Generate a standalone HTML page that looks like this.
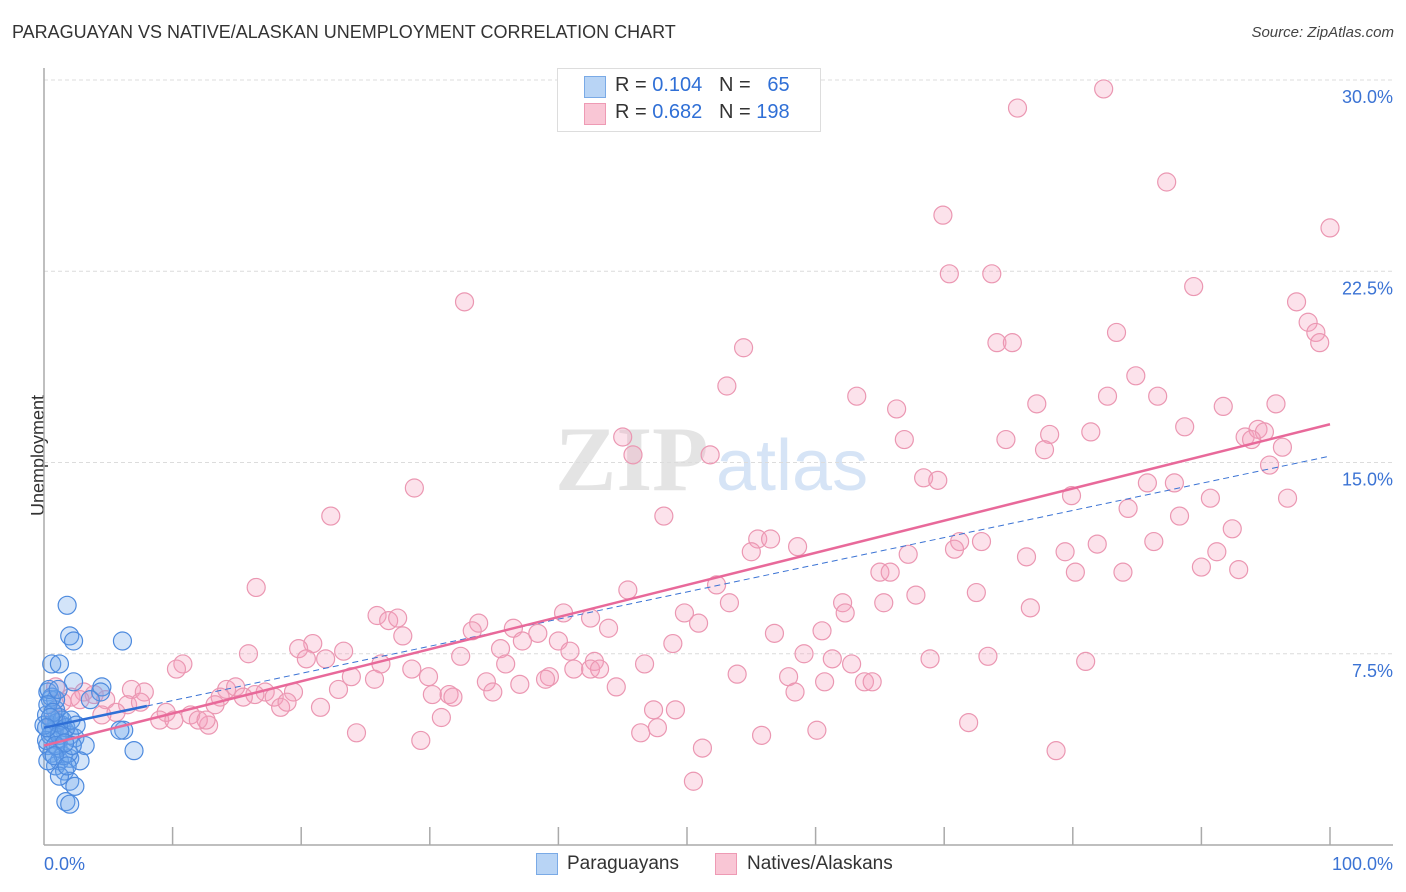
<!DOCTYPE html>
<html><head><meta charset="utf-8">
<style>
body{margin:0;background:#fff;font-family:"Liberation Sans",sans-serif;}
#wrap{position:relative;width:1406px;height:892px;overflow:hidden;}
.t{position:absolute;white-space:nowrap;}
</style></head>
<body>
<div id="wrap">
<div class="t" style="left:12px;top:22px;font-size:18px;color:#333;">PARAGUAYAN VS NATIVE/ALASKAN UNEMPLOYMENT CORRELATION CHART</div>
<div class="t" style="right:12px;top:24px;font-size:15px;color:#444;font-style:italic;">Source: ZipAtlas.com</div>
<div class="t" style="left:-22px;top:445px;font-size:18px;color:#333;transform:rotate(-90deg);">Unemployment</div>
<svg id="svg" width="1406" height="892" style="position:absolute;left:0;top:0"></svg>
<div style="position:absolute;left:557px;top:68px;width:262px;height:62px;border:1px solid #ddd;background:#fff;font-size:20px;color:#333;">
 <div style="position:absolute;left:26px;top:7px;width:20px;height:20px;background:#b8d4f5;border:1px solid #7aaae6;"></div>
 <div class="t" style="left:57px;top:5px;">R = <span style="color:#2f6fd6">0.104</span>&nbsp;&nbsp;&nbsp;N = &nbsp;&nbsp;<span style="color:#2f6fd6">65</span></div>
 <div style="position:absolute;left:26px;top:34px;width:20px;height:20px;background:#f9c6d5;border:1px solid #ee9ab4;"></div>
 <div class="t" style="left:57px;top:32px;">R = <span style="color:#2f6fd6">0.682</span>&nbsp;&nbsp;&nbsp;N = <span style="color:#2f6fd6">198</span></div>
</div>
<div style="position:absolute;left:536px;top:853px;width:20px;height:20px;background:#b8d4f5;border:1px solid #7aaae6;"></div>
<div class="t" style="left:567px;top:853px;font-size:19px;color:#333;">Paraguayans</div>
<div style="position:absolute;left:715px;top:853px;width:20px;height:20px;background:#f9c6d5;border:1px solid #ee9ab4;"></div>
<div class="t" style="left:747px;top:853px;font-size:19px;color:#333;">Natives/Alaskans</div>
</div>
<script>
const yTicks=[7.5,15,22.5,30];
const yTickLabels=["7.5%","15.0%","22.5%","30.0%"];
const xEndLabels=["0.0%","100.0%"];
const pinkX=[82.4,75.7,87.3,69.9,100,70.4,73.7,89.4,32.7,97.4,98.3,98.9,83.4,99.2,74.1,75.3,54.4,84.9,53.1,63.2,82.7,86.6,66.3,77.2,91.7,95.8,88.7,66.9,74.8,78.2,81.4,93.4,94.4,94.9,93.9,77.8,45.0,45.8,51.8,96.3,95.3,68.4,69.5,85.8,87.9,79.9,90.7,28.8,84.3,96.7,88.3,22.3,48.2,92.4,55.5,56.5,55.0,58.6,71.2,72.9,70.8,81.9,86.3,79.4,67.2,91.2,76.4,90.0,92.9,65.0,65.8,80.2,83.9,52.3,45.4,16.5,67.8,72.5,53.3,62.1,65.3,76.7,25.9,40.4,26.8,27.5,49.8,62.3,33.8,50.9,42.5,43.9,36.5,27.9,56.8,60.5,33.3,38.4,48.9,40.0,20.9,19.8,23.3,37.2,15.9,20.4,21.9,26.2,28.6,32.4,35.5,40.9,35.9,42.8,46.7,59.1,61.3,62.8,68.9,73.4,81.0,10.8,10.3,29.9,34.4,39.3,42.5,43.2,41.2,23.9,25.7,53.9,57.9,60.7,63.8,64.4,30.2,31.5,31.8,37.0,39.0,44.5,34.9,22.9,19.4,17.2,16.4,17.9,14.2,13.7,14.9,15.5,6.8,7.8,3.1,3.9,4.8,6.5,7.5,5.6,4.5,9.5,9.0,10.1,13.3,11.4,12.8,12.0,12.6,18.4,18.9,21.5,30.9,47.4,49.1,58.4,46.4,47.7,24.3,29.3,51.2,55.8,60.1,71.9,78.7,50.5,0.8,1.4,2.1,2.8,0.9];
const pinkY=[29.65,28.9,26.0,24.7,24.2,22.4,22.4,21.9,21.3,21.3,20.5,20.1,20.1,19.7,19.7,19.7,19.5,18.4,18.0,17.6,17.6,17.6,17.1,17.3,17.2,17.3,16.4,15.9,15.9,16.1,16.2,16.0,16.3,16.2,15.9,15.5,16.0,15.3,15.3,15.6,14.9,14.4,14.3,14.2,14.2,13.7,13.6,14.0,13.2,13.6,12.9,12.9,12.9,12.4,12.0,12.0,11.5,11.7,11.9,11.9,11.6,11.8,11.9,11.5,11.4,11.5,11.3,10.9,10.8,10.7,10.7,10.7,10.7,10.2,10.0,10.1,9.8,9.9,9.5,9.5,9.5,9.3,9.0,9.1,8.8,8.9,9.1,9.1,8.7,8.7,8.9,8.5,8.5,8.2,8.3,8.4,8.4,8.3,7.9,8.0,7.9,7.7,7.6,8.0,7.5,7.3,7.3,7.1,6.9,7.4,7.7,7.6,7.1,7.2,7.1,7.5,7.3,7.1,7.3,7.4,7.2,7.1,6.9,6.6,6.4,6.6,6.9,6.9,6.9,6.6,6.5,6.7,6.6,6.4,6.4,6.4,5.9,5.9,5.8,6.3,6.5,6.2,6.0,6.1,6.0,6.0,5.9,5.8,6.1,5.8,6.2,5.8,6.1,6.0,6.0,5.9,5.7,5.5,5.6,5.2,5.1,5.2,4.9,4.9,5.5,5.1,4.7,4.9,4.9,5.4,5.6,5.4,5.0,5.3,5.3,6.0,4.4,4.6,4.4,4.1,3.8,4.3,4.5,4.8,3.7,2.5,4.9,5.6,5.8,5.7,6.2];
const blueX=[1.8,2.0,2.3,6.1,0.6,1.2,2.3,4.5,4.4,3.6,0.3,0.5,0.9,1.2,0.5,1.6,2.0,1.1,2.4,3.2,0.3,0.6,1.2,2.0,2.8,0.9,1.6,2.0,2.4,1.2,1.7,2.0,6.2,5.9,7.0,0.5,0.8,1.4,0.2,0.9,0.6,0.4,1.1,1.5,1.9,2.2,0.3,0.6,1.0,1.4,0.2,0,0.3,0.7,1.7,2.1,2.5,1.2,0.9,1.6,0.5,0.2,1.1,0.8,1.8];
const blueY=[9.4,8.2,8.0,8.0,7.1,7.1,6.4,6.2,6.0,5.7,6.0,5.7,5.3,5.0,4.7,4.5,4.3,4.1,4.2,3.9,3.9,3.6,3.3,3.4,3.3,3.1,2.9,2.5,2.3,2.7,1.7,1.6,4.5,4.5,3.7,4.3,4.5,4.7,5.1,5.7,5.8,6.1,3.8,3.5,3.6,3.9,3.3,4.4,4.8,4.9,4.1,4.7,5.5,5.2,4.6,4.9,4.7,4.3,3.9,4.0,5.0,4.6,6.1,3.5,3.1];
const pinkTrend=[3.9,16.5];
const blueTrend=[4.6,15.25];
const blueSolidEnd=8;

const X0=44,X1=1330,Y0=845,PXPER=25.5;
const sx=v=>X0+(X1-X0)*v/100;
const sy=v=>Y0-v*PXPER;
const NS="http://www.w3.org/2000/svg";
const svg=document.getElementById('svg');
function mk(tag,attrs,parent){const e=document.createElementNS(NS,tag);for(const k in attrs)e.setAttribute(k,attrs[k]);(parent||svg).appendChild(e);return e;}

// watermark
const wm=mk('text',{x:555,y:490,'font-size':92,'font-family':'Liberation Serif, serif','font-weight':'bold',fill:'#e4e4e4'});
wm.textContent='ZIP';


const wm2=mk('text',{x:716,y:490,'font-size':72,'font-family':'Liberation Sans, sans-serif',fill:'#d6e4f6'});
wm2.textContent='atlas';



// gridlines + y labels
yTicks.forEach((t,i)=>{
 const g=mk('line',{x1:X0,x2:1393,y1:sy(t),y2:sy(t),stroke:'#dcdcdc','stroke-dasharray':'4,3'});
 
 
 const l=mk('text',{x:1393,y:sy(t)+23,'text-anchor':'end','font-size':18,fill:'#3b73d4','font-family':'Liberation Sans, sans-serif'});
 l.textContent=yTickLabels[i];
 
 
});
// axes
const ax=mk('line',{x1:X0,x2:1393,y1:Y0,y2:Y0,stroke:'#aaa','stroke-width':1.5});


const ay=mk('line',{x1:X0,x2:X0,y1:68,y2:Y0,stroke:'#aaa','stroke-width':1.5});


for(let i=1;i<=10;i++){
 const tk=mk('line',{x1:sx(i*10),x2:sx(i*10),y1:Y0,y2:Y0-18,stroke:'#aaa','stroke-width':1.5});
 
 
}
[0,100].forEach((v,i)=>{
 const l=mk('text',{x:i?1393:44,y:870,'text-anchor':i?'end':'start','font-size':18,fill:'#3b73d4','font-family':'Liberation Sans, sans-serif'});
 l.textContent=xEndLabels[i];
 
 
});
// points
pinkX.forEach((x,i)=>{
 const c=mk('circle',{cx:sx(x),cy:sy(pinkY[i]),r:9,fill:'rgba(244,160,188,0.3)',stroke:'#eb97b2','stroke-width':1.2});
 
 
});
blueX.forEach((x,i)=>{
 const c=mk('circle',{cx:sx(x),cy:sy(blueY[i]),r:9,fill:'rgba(110,165,235,0.3)',stroke:'#4d8ade','stroke-width':1.2});
 
 
});
// trend lines
const bAt=v=>blueTrend[0]+(blueTrend[1]-blueTrend[0])*v/100;
const bd=mk('line',{x1:sx(blueSolidEnd),y1:sy(bAt(blueSolidEnd)),x2:sx(100),y2:sy(blueTrend[1]),stroke:'#3b73d4','stroke-width':1,'stroke-dasharray':'6,4'});


const pt=mk('line',{x1:sx(0),y1:sy(pinkTrend[0]),x2:sx(100),y2:sy(pinkTrend[1]),stroke:'#e8699a','stroke-width':2.5});


const bt=mk('line',{x1:sx(0),y1:sy(blueTrend[0]),x2:sx(blueSolidEnd),y2:sy(bAt(blueSolidEnd)),stroke:'#2f6fd6','stroke-width':2.5});


</script>
</body></html>
